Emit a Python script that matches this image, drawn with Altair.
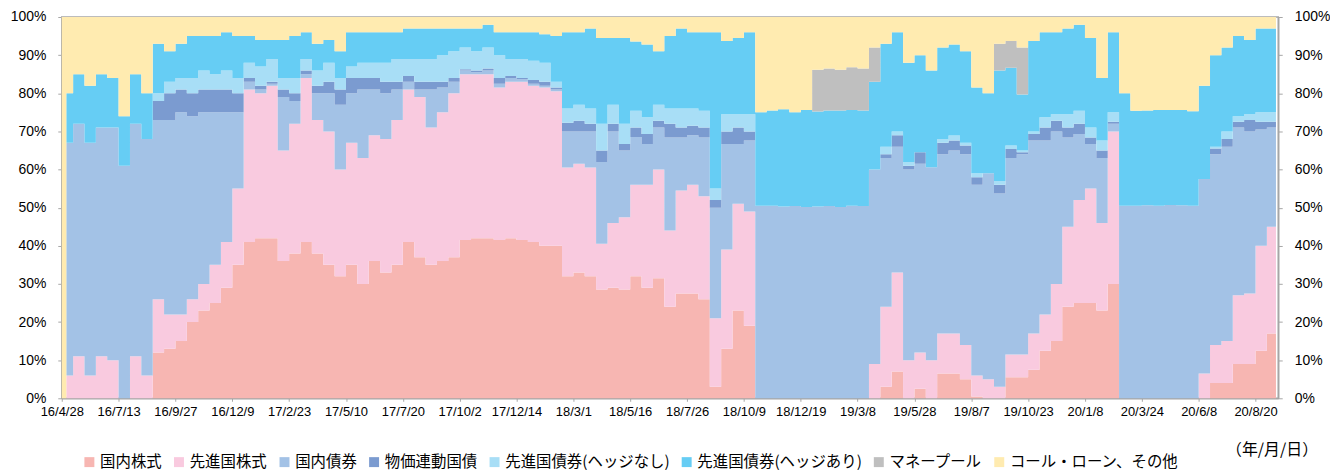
import altair as alt
import pandas as pd

# business-day index of each sample (0 = 16/4/28)
days = [0, 4] + list(range(10, 1061, 10)) + [1068]

# cumulative tops (%)
dom_stock_top = [0,0,0,0,0,0,0,0,0,12,13,15,20,23,25,29,35,41,42,42,36,38,41,38,35,32,35,30,36,33,35,41,37,35,36,37,41.5,42,42,41.5,42,41.5,41,40,40,32,33,32,28.5,29,28.5,32,29,31.5,24,27.5,27.5,26,3,13,23,19,0,0,0,0,0,0,0,0,0,0,0,3,7,0,2.5,0,6.5,6.5,5,0.5,0,0,5.5,5.5,7.5,12.5,15,24,25,25,23,30,0,0,0,0,0,0,0,0,4,4,9,9,12.5,17,17]
fgn_stock_top = [0,6,11,6,11,10,0,11,6,26,22,22,26,30,35,41,55,81,80,82,65,72,84,73,70,60,67,63,69,68,73,81,79,71,75,80,85,85,85,81.5,83,83,82,81.5,80.5,60.5,61.5,60.5,40.5,46,47.5,56,56,60,44,54.5,56,53,21,39,51,49,0,0,0,0,0,0,0,0,0,0,9,24,33,10,12,10,17,17,14,6,5,3,11.5,11.5,17,22,30,45,52,55,46,70,0,0,0,0,0,0,0,6.5,14,15,27,27.5,40,45,41]
dom_bond_top = [0,67,72,67,71,71,61,72,68,73,73,75,74,75,75,75,75,83,81,82.5,79,78,85,80,80,77,80,81,81,80,81,83,81,81,81.5,83,86,85.5,86,82.5,84,83.7,82.5,82,81,70,70,70,62,70,65,68.5,66.7,71,68.4,68.4,69,68.4,50,66.7,66.7,67.6,50.5,50.5,50.3,50.4,50.2,50.3,50.4,50.2,50.5,50.4,60,63,66,60,61.5,60.6,64,65,64,56,59,53.7,63,64,67.6,67.6,70,68.4,69.3,66.7,63,72,50.5,50.5,50.6,50.5,50.7,50.6,50.5,57.5,64,66,71,70,70.5,71,70]
ilb_top = [0,67,72,67,71,71,61,72,68,78,80,81,80,81,81,81,80,84,82,83,81,80,86,82,83,81,84,84,84,83,83,84.5,83,83,83,84,86.3,86,86.5,84,84.5,84,83.5,83,81.5,72.3,72.8,72,65,72,66.7,71,69.3,72.8,72,71,71.5,71,52,70,71,70,50.5,50.5,50.3,50.4,50.2,50.3,50.4,50.2,50.5,50.4,60,64,69,61,64.5,60.6,67,67.6,66.3,58,59,56,65.4,64.5,69.3,71,72.8,71,72,68.4,65,72.5,50.5,50.5,50.6,50.5,50.7,50.6,50.5,57.5,65.5,68,72.5,73,72.5,72.5,72]
unhedged_top = [0,67,72,67,71,71,61,72,68,80,83,84,84,86,85,86,84,88,87,89,84,84,89,86,88,84,87,88,88,88,89,89,89,89,90,91,92,91,92,90,89,89,88.5,88,83,76,77,76,72,77,72,75.4,73.7,77,76,76,76,75.4,55,74.5,74.5,74.5,50.5,50.5,50.3,50.4,50.2,50.3,50.4,50.2,50.5,50.4,60,66,70,62,64.5,60.6,68,68.9,67,59,59,57,66.3,65,70,73.7,74.5,74.5,75.4,71,67.6,75,50.5,50.5,50.6,50.5,50.7,50.6,50.5,57.5,66,70,74,74.5,75,75,76]
hedged_top = [0,80,85,82,85,84,74,85,80,93,91,93,95,95,95,96,95,95,94,94,94,95,96,93,94,91,96,96,96,96,96,97,97,97,97,97,97,97,98,96,96,96,96,95.5,95,96,96,97,94.5,94.5,94.5,93.6,92.8,91,95,97,96,96,96,93.7,94.5,96,75,75.5,75.8,75,75.6,75.2,75.5,75.5,75.6,75.5,83,93,96,88,90,86,92,92.8,91,81.5,80,86,86.7,79.7,93.7,96,96,97,98,94.5,84,96,80,75.4,75.5,75.6,75.6,75.6,75.3,82,90,92,95,94,97,97,98]
money_top = [0,80,85,82,85,84,74,85,80,93,91,93,95,95,95,96,95,95,94,94,94,95,96,93,94,91,96,96,96,96,96,97,97,97,97,97,97,97,98,96,96,96,96,95.5,95,96,96,97,94.5,94.5,94.5,93.6,92.8,91,95,97,96,96,96,93.7,94.5,96,75,75.5,75.8,75,75.6,86.2,86.5,86.2,86.8,86.5,92,93,96,88,90,86,92,92.8,91,81.5,80,93,93.7,92,93.7,96,96,97,98,94.5,84,96,80,75.4,75.5,75.6,75.6,75.6,75.3,82,90,92,95,94,97,97,98]

series = ["国内株式", "先進国株式", "国内債券", "物価連動国債",
          "先進国債券(ヘッジなし)", "先進国債券(ヘッジあり)", "マネープール", "コール・ローン、その他"]
colors = ["#F7B6B2", "#F9CADF", "#A3C2E6", "#7B9BD0", "#A8DEF6", "#66CDF4", "#BFBFBF", "#FFEBB0"]

tick_labels = ["16/4/28", "16/7/13", "16/9/27", "16/12/9", "17/2/23", "17/5/10", "17/7/20",
               "17/10/2", "17/12/14", "18/3/1", "18/5/16", "18/7/26", "18/10/9", "18/12/19",
               "19/3/8", "19/5/28", "19/8/7", "19/10/23", "20/1/8", "20/3/24", "20/6/8", "20/8/20"]
tick_days = [i * 50 for i in range(len(tick_labels))]

rows = []
tops = [dom_stock_top, fgn_stock_top, dom_bond_top, ilb_top, unhedged_top, hedged_top, money_top]
for i, d in enumerate(days):
    b = [0] + [t[i] for t in tops] + [100]
    for k, s in enumerate(series):
        rows.append({"day": d, "series": s, "lo": b[k], "hi": b[k + 1]})
df = pd.DataFrame(rows)

label_expr = "[" + ",".join("'" + t + "'" for t in tick_labels) + "][round(datum.value/50)]"
AX = "#A6A6A6"
yscale = alt.Scale(domain=[0, 100], nice=False, zero=True)

areas = alt.Chart(df).mark_area(interpolate="step-after").encode(
    x=alt.X("day:Q", scale=alt.Scale(domain=[0, 1070], nice=False, zero=False),
            axis=alt.Axis(values=tick_days, labelExpr=label_expr, title=None, grid=False,
                          domainColor=AX, domainWidth=1.5, tickColor=AX, tickSize=3,
                          labelFont="Liberation Sans", labelFontSize=13, labelColor="#000",
                          labelPadding=4, labelOverlap=False, labelFlush=False)),
    y=alt.Y("lo:Q", scale=yscale,
            axis=alt.Axis(orient="left", values=list(range(0, 101, 10)), labelExpr="datum.value + '%'",
                          title=None, grid=False, domainColor=AX, domainWidth=1.5, tickColor=AX,
                          tickSize=4, labelPadding=12, labelFont="Liberation Sans",
                          labelFontSize=14, labelColor="#000")),
    y2="hi:Q",
    color=alt.Color("series:N", sort=series, scale=alt.Scale(domain=series, range=colors),
                    legend=alt.Legend(title=None, orient="none", direction="horizontal",
                                      legendX=20, legendY=439, symbolType="square", symbolSize=100,
                                      symbolStrokeWidth=0, labelFont="Noto Sans CJK JP",
                                      labelFontSize=15.5, labelColor="#000", labelOffset=3,
                                      columnPadding=9, padding=0, labelLimit=400)),
)

right = alt.Chart(df).mark_rule(opacity=0).encode(
    y=alt.Y("lo:Q", scale=yscale,
            axis=alt.Axis(orient="right", values=list(range(0, 101, 10)), labelExpr="datum.value + '%'",
                          title=None, grid=False, domainColor=AX, domainWidth=1.5, tickColor=AX,
                          tickSize=4, labelPadding=12, labelFont="Liberation Sans",
                          labelFontSize=14, labelColor="#000")),
)

unit = alt.Chart(pd.DataFrame({"t": ["（年/月/日）"]})).mark_text(
    align="right", baseline="middle", font="Noto Sans CJK JP", fontSize=16, color="#000"
).encode(x=alt.value(1262), y=alt.value(435), text="t:N")

chart = alt.layer(areas, right, unit).resolve_axis(y="independent").properties(
    width=1222, height=383,
    padding={"left": 54, "top": 8, "right": 52, "bottom": 74},
    autosize=alt.AutoSizeParams(type="none"),
).configure_view(stroke=AX, strokeWidth=1.5)

chart.save("out.html", embed_options={"renderer": "svg", "actions": False})
